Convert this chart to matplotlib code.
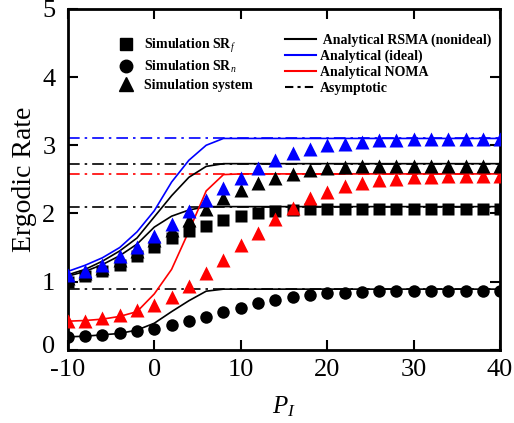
import numpy as np
import matplotlib
matplotlib.use("Agg")
import matplotlib.pyplot as plt
import matplotlib.transforms as mtransforms
from matplotlib.lines import Line2D

plt.rcParams['font.family'] = ['Liberation Serif', 'DejaVu Serif']
plt.rcParams['mathtext.fontset'] = 'custom'
plt.rcParams['mathtext.rm'] = 'Liberation Serif'
plt.rcParams['mathtext.it'] = 'Liberation Serif:italic'
plt.rcParams['mathtext.bf'] = 'Liberation Serif:bold'
plt.rcParams['axes.unicode_minus'] = False

# ---------------- data ----------------
p_db = [-10, -8, -6, -4, -2, 0, 2, 4, 6, 8, 10, 12, 14, 16, 18, 20,
        22, 24, 26, 28, 30, 32, 34, 36, 38, 40]

sim_srf = [1.00, 1.08, 1.15, 1.25, 1.38, 1.51, 1.64, 1.74, 1.81, 1.91, 1.96, 2.00, 2.03,
           2.05, 2.06, 2.07, 2.07, 2.07, 2.07, 2.07, 2.07, 2.07, 2.07, 2.07, 2.07, 2.07]
sim_srn = [0.19, 0.21, 0.22, 0.24, 0.28, 0.31, 0.36, 0.42, 0.48, 0.55, 0.61, 0.68, 0.73,
           0.77, 0.80, 0.83, 0.84, 0.85, 0.86, 0.86, 0.86, 0.86, 0.86, 0.86, 0.86, 0.86]
sim_sys = [1.05, 1.12, 1.20, 1.31, 1.45, 1.61, 1.76, 1.91, 2.07, 2.23, 2.35, 2.45, 2.52,
           2.58, 2.63, 2.66, 2.68, 2.69, 2.69, 2.69, 2.69, 2.69, 2.69, 2.69, 2.69, 2.69]
sim_ideal = [1.10, 1.15, 1.25, 1.37, 1.51, 1.67, 1.84, 2.03, 2.19, 2.37, 2.52, 2.66, 2.78,
             2.88, 2.94, 3.00, 3.02, 3.05, 3.07, 3.08, 3.09, 3.09, 3.09, 3.09, 3.09, 3.09]
sim_noma = [0.43, 0.43, 0.46, 0.51, 0.58, 0.66, 0.78, 0.93, 1.12, 1.32, 1.53, 1.72, 1.92,
            2.08, 2.22, 2.32, 2.40, 2.45, 2.49, 2.51, 2.53, 2.54, 2.55, 2.55, 2.55, 2.55]

ana_ideal = [1.15, 1.24, 1.35, 1.50, 1.73, 2.04, 2.46, 2.78, 3.00, 3.10, 3.10, 3.10, 3.10,
             3.10, 3.10, 3.10, 3.10, 3.10, 3.10, 3.10, 3.10, 3.10, 3.10, 3.10, 3.10, 3.10]
ana_sys = [1.10, 1.18, 1.30, 1.45, 1.64, 1.95, 2.26, 2.53, 2.69, 2.73, 2.73, 2.73, 2.73,
           2.73, 2.73, 2.73, 2.73, 2.73, 2.73, 2.73, 2.73, 2.73, 2.73, 2.73, 2.73, 2.73]
ana_srf = [1.08, 1.15, 1.25, 1.38, 1.55, 1.80, 1.96, 2.05, 2.10, 2.10, 2.10, 2.10, 2.10,
           2.10, 2.10, 2.10, 2.10, 2.10, 2.10, 2.10, 2.10, 2.10, 2.10, 2.10, 2.10, 2.10]
ana_noma = [0.42, 0.43, 0.45, 0.49, 0.56, 0.82, 1.18, 1.74, 2.33, 2.57, 2.58, 2.58, 2.58,
            2.58, 2.58, 2.58, 2.58, 2.58, 2.58, 2.58, 2.58, 2.58, 2.58, 2.58, 2.58, 2.58]
ana_srn = [0.19, 0.20, 0.22, 0.24, 0.29, 0.39, 0.56, 0.72, 0.86, 0.89, 0.89, 0.89, 0.89,
           0.89, 0.89, 0.89, 0.89, 0.89, 0.89, 0.89, 0.89, 0.89, 0.89, 0.89, 0.89, 0.89]

asym_values = [3.10, 2.73, 2.58, 2.10, 0.89]
asym_colors = ['blue', 'black', 'red', 'black', 'black']

x_ticks = [-10, 0, 10, 20, 30, 40]
y_ticks = [0, 1, 2, 3, 4, 5]

# ---------------- figure ----------------
fig = plt.figure(figsize=(5.14, 4.23), dpi=100)
ax = fig.add_axes([0.132, 0.173, 0.841, 0.806])

dash = (0, (7, 3, 1.5, 3))
for v, c in zip(asym_values, asym_colors):
    ax.axhline(v, color=c, lw=1.2, linestyle=dash, zorder=1)

lw = 1.2
ax.plot(p_db, ana_srn, color='black', lw=lw, zorder=2)
ax.plot(p_db, ana_srf, color='black', lw=lw, zorder=2)
ax.plot(p_db, ana_sys, color='black', lw=lw, zorder=2)
ax.plot(p_db, ana_noma, color='red', lw=lw, zorder=2)
ax.plot(p_db, ana_ideal, color='blue', lw=lw, zorder=2)

ax.plot(p_db, sim_srn, 'o', color='black', ms=9, mec='none', zorder=3)
ax.plot(p_db, sim_srf, 's', color='black', ms=8.2, mec='none', zorder=3)
ax.plot(p_db, sim_noma, '^', color='red', ms=10, mec='none', zorder=3)
ax.plot(p_db, sim_sys, '^', color='black', ms=10, mec='none', zorder=4)
ax.plot(p_db, sim_ideal, '^', color='blue', ms=10, mec='none', zorder=5)

ax.set_xlim(-10, 40)
ax.set_ylim(0, 5)
ax.set_xticks(x_ticks)
ax.set_yticks(y_ticks)
ax.tick_params(direction='in', length=7, width=1.5, labelsize=19,
               top=True, right=True)
ax.tick_params(axis='x', pad=6.5)
ax.tick_params(axis='y', pad=9)
for s in ax.spines.values():
    s.set_linewidth(2)

# nudge the y "0" label slightly up so it does not collide with the x "-10" label
fig.canvas.draw()
ylab0 = ax.get_yticklabels()[0]
ylab0.set_transform(ylab0.get_transform() +
                    mtransforms.ScaledTranslation(0, 5 / 100, fig.dpi_scale_trans))

ax.set_xlabel(r'$P_I$', fontsize=18, labelpad=10)
ax.set_ylabel('Ergodic Rate', fontsize=20, labelpad=4)

# legends
h1 = [Line2D([], [], ls='none', marker='s', color='black', ms=8),
      Line2D([], [], ls='none', marker='o', color='black', ms=9),
      Line2D([], [], ls='none', marker='^', color='black', ms=9.5)]
l1 = [r'Simulation SR$_{\mathit{f}}$', r'Simulation SR$_{\mathit{n}}$', 'Simulation system']
leg1 = ax.legend(h1, l1, loc='upper left', bbox_to_anchor=(0.105, 0.935), frameon=False,
                 prop={'weight': 'bold', 'size': 10}, handlelength=1.0, handletextpad=0.8,
                 labelspacing=0.3, borderaxespad=0)
ax.add_artist(leg1)

h2 = [Line2D([], [], color='black', lw=1.5),
      Line2D([], [], color='blue', lw=1.5),
      Line2D([], [], color='red', lw=1.5),
      Line2D([], [], color='black', lw=1.5, linestyle=(0, (4, 2, 1.5, 2)))]
l2 = [' Analytical RSMA (nonideal)', 'Analytical (ideal)', 'Analytical NOMA', 'Asymptotic']
ax.legend(h2, l2, loc='upper left', bbox_to_anchor=(0.49, 0.945), frameon=False,
          prop={'weight': 'bold', 'size': 10}, handlelength=2.2, handletextpad=0.3,
          labelspacing=0.22, borderaxespad=0)

fig.savefig('out.png', dpi=100)
